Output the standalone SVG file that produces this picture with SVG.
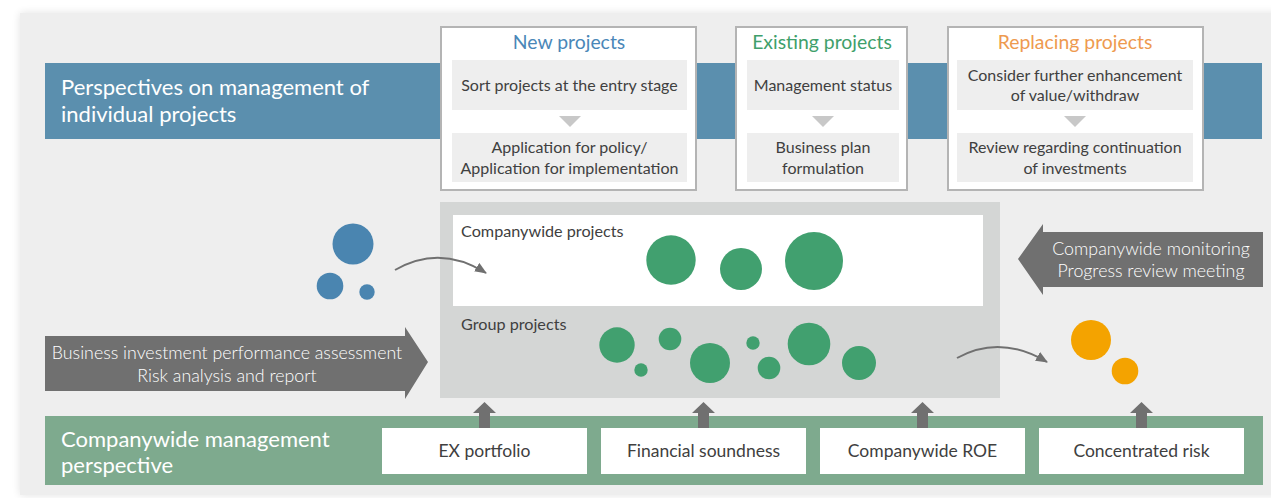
<svg xmlns="http://www.w3.org/2000/svg" width="1271" height="498" viewBox="0 0 1271 498">
  <defs>
    <filter id="shadow" x="-5%" y="-5%" width="110%" height="110%">
      <feGaussianBlur in="SourceAlpha" stdDeviation="4"/>
      <feOffset dx="0" dy="0" result="b"/>
      <feComponentTransfer><feFuncA type="linear" slope="0.12"/></feComponentTransfer>
      <feMerge><feMergeNode/><feMergeNode in="SourceGraphic"/></feMerge>
    </filter>
    <marker id="curveHead" viewBox="0 0 12 10" refX="11" refY="5" markerWidth="12" markerHeight="10" markerUnits="userSpaceOnUse" orient="auto">
      <path d="M0,0 L12,5 L0,10 Z" fill="#707070"/>
    </marker>
    <style>
      text { font-family: Lato, "Open Sans", "Liberation Sans", sans-serif; }
      .band-title { fill: #ffffff; font-size: 22px; }
      .card { fill: #ffffff; stroke: #b4b4b4; stroke-width: 2; }
      .step { fill: #eeeeee; }
      .step-text { fill: #404040; font-size: 16px; text-anchor: middle; }
      .tri { fill: #c8c8c8; }
      .card-title { font-size: 19.4px; text-anchor: middle; }
      .green { fill: #41a06f; }
      .blue { fill: #4a85b0; }
      .orange { fill: #f4a300; }
      .bigarrow { fill: #707070; }
      .arrow-text { fill: #ffffff; font-size: 17.8px; text-anchor: middle; font-weight: 300; }
      .area-label { fill: #404040; font-size: 16.2px; }
      .kpi { fill: #ffffff; }
      .kpi-text { fill: #404040; font-size: 17.5px; text-anchor: middle; }
      .curve { fill: none; stroke: #707070; stroke-width: 2; }
    </style>
  </defs>

  <rect x="0" y="0" width="1271" height="498" fill="#ffffff"/>
  <rect x="20" y="13" width="1260" height="482" fill="#eeeeee" filter="url(#shadow)"/>

  <g id="individual-band">
    <rect x="45" y="63" width="1217" height="76" fill="#5b8fae"/>
    <text class="band-title" x="61" y="95">Perspectives on management of</text>
    <text class="band-title" x="61" y="122">individual projects</text>
  </g>

  <g id="new-projects">
    <rect class="card" x="441" y="27" width="255" height="163"/>
    <text class="card-title" x="569" y="49" fill="#4a87b8">New projects</text>
    <rect class="step" x="452" y="60" width="235" height="50"/>
    <text class="step-text" x="569.5" y="91">Sort projects at the entry stage</text>
    <polygon class="tri" points="559,116 581,116 570,127"/>
    <rect class="step" x="452" y="133" width="235" height="49"/>
    <text class="step-text" x="569.5" y="153">Application for policy/</text>
    <text class="step-text" x="569.5" y="174">Application for implementation</text>
  </g>

  <g id="existing-projects">
    <rect class="card" x="736" y="27" width="171" height="163"/>
    <text class="card-title" x="822" y="49" fill="#3fa06b">Existing projects</text>
    <rect class="step" x="747" y="60" width="152" height="50"/>
    <text class="step-text" x="823" y="91">Management status</text>
    <polygon class="tri" points="812,116 834,116 823,127"/>
    <rect class="step" x="747" y="133" width="152" height="49"/>
    <text class="step-text" x="823" y="153">Business plan</text>
    <text class="step-text" x="823" y="174">formulation</text>
  </g>

  <g id="replacing-projects">
    <rect class="card" x="948" y="27" width="255" height="163"/>
    <text class="card-title" x="1075" y="49" fill="#ee9a4f">Replacing projects</text>
    <rect class="step" x="957" y="60" width="236" height="50"/>
    <text class="step-text" x="1075" y="81">Consider further enhancement</text>
    <text class="step-text" x="1075" y="101">of value/withdraw</text>
    <polygon class="tri" points="1064,116 1086,116 1075,127"/>
    <rect class="step" x="957" y="133" width="236" height="49"/>
    <text class="step-text" x="1075" y="153">Review regarding continuation</text>
    <text class="step-text" x="1075" y="174">of investments</text>
  </g>

  <g id="new-circles">
    <circle class="blue" cx="353" cy="244" r="20.5"/>
    <circle class="blue" cx="330" cy="286" r="13.3"/>
    <circle class="blue" cx="367" cy="292" r="7.7"/>
  </g>

  <g id="project-area">
    <rect x="440" y="202" width="560" height="196" fill="#d4d6d5"/>
    <rect x="453" y="215" width="530" height="91" fill="#ffffff"/>
    <text class="area-label" x="461" y="237">Companywide projects</text>
    <text class="area-label" x="461" y="330">Group projects</text>
  </g>

  <g id="companywide-circles">
    <circle class="green" cx="671" cy="260" r="24.7"/>
    <circle class="green" cx="741" cy="269" r="21"/>
    <circle class="green" cx="814" cy="261" r="29"/>
  </g>

  <g id="group-circles">
    <circle class="green" cx="617" cy="345" r="17.7"/>
    <circle class="green" cx="670" cy="339" r="11.3"/>
    <circle class="green" cx="641" cy="370" r="6.7"/>
    <circle class="green" cx="710" cy="363" r="20"/>
    <circle class="green" cx="753" cy="343" r="6.7"/>
    <circle class="green" cx="769" cy="368" r="11.3"/>
    <circle class="green" cx="809" cy="344" r="21.3"/>
    <circle class="green" cx="859" cy="363" r="17"/>
  </g>

  <g id="replacing-circles">
    <circle class="orange" cx="1091" cy="340" r="20"/>
    <circle class="orange" cx="1125" cy="371" r="13.3"/>
  </g>

  <g id="assessment-arrow">
    <polygon class="bigarrow" points="45,336 405,336 405,327 428,362 405,399 405,391 45,391"/>
    <text class="arrow-text" x="227" y="359">Business investment performance assessment</text>
    <text class="arrow-text" x="227" y="382">Risk analysis and report</text>
  </g>

  <g id="monitoring-arrow">
    <polygon class="bigarrow" points="1263,232 1043,232 1043,224 1018,259 1043,295 1043,287 1263,287"/>
    <text class="arrow-text" x="1151" y="255">Companywide monitoring</text>
    <text class="arrow-text" x="1151" y="277">Progress review meeting</text>
  </g>

  <g id="companywide-band">
    <rect x="45" y="416" width="1218" height="69" fill="#7eaa8e"/>
    <text class="band-title" x="61" y="447">Companywide management</text>
    <text class="band-title" x="61" y="473">perspective</text>
  </g>

  <g id="kpi-ex">
    <rect class="kpi" x="382" y="428" width="205" height="46"/>
    <text class="kpi-text" x="484.5" y="457">EX portfolio</text>
  </g>
  <g id="kpi-financial">
    <rect class="kpi" x="601" y="428" width="205" height="46"/>
    <text class="kpi-text" x="703.5" y="457">Financial soundness</text>
  </g>
  <g id="kpi-roe">
    <rect class="kpi" x="820" y="428" width="205" height="46"/>
    <text class="kpi-text" x="922.5" y="457">Companywide ROE</text>
  </g>
  <g id="kpi-risk">
    <rect class="kpi" x="1039" y="428" width="205" height="46"/>
    <text class="kpi-text" x="1141.5" y="457">Concentrated risk</text>
  </g>

  <g id="connectors">
    <path class="curve" d="M395,270 Q440,244 486,273" marker-end="url(#curveHead)"/>
    <path class="curve" d="M957,358 Q1000,334 1047,362" marker-end="url(#curveHead)"/>
    <polygon class="bigarrow" points="479,428 479,413 473,413 484.5,402 496,413 490,413 490,428"/>
    <polygon class="bigarrow" points="698,428 698,413 692,413 703.5,402 715,413 709,413 709,428"/>
    <polygon class="bigarrow" points="917,428 917,413 911,413 922.5,402 934,413 928,413 928,428"/>
    <polygon class="bigarrow" points="1136,428 1136,413 1130,413 1141.5,402 1153,413 1147,413 1147,428"/>
  </g>
</svg>
